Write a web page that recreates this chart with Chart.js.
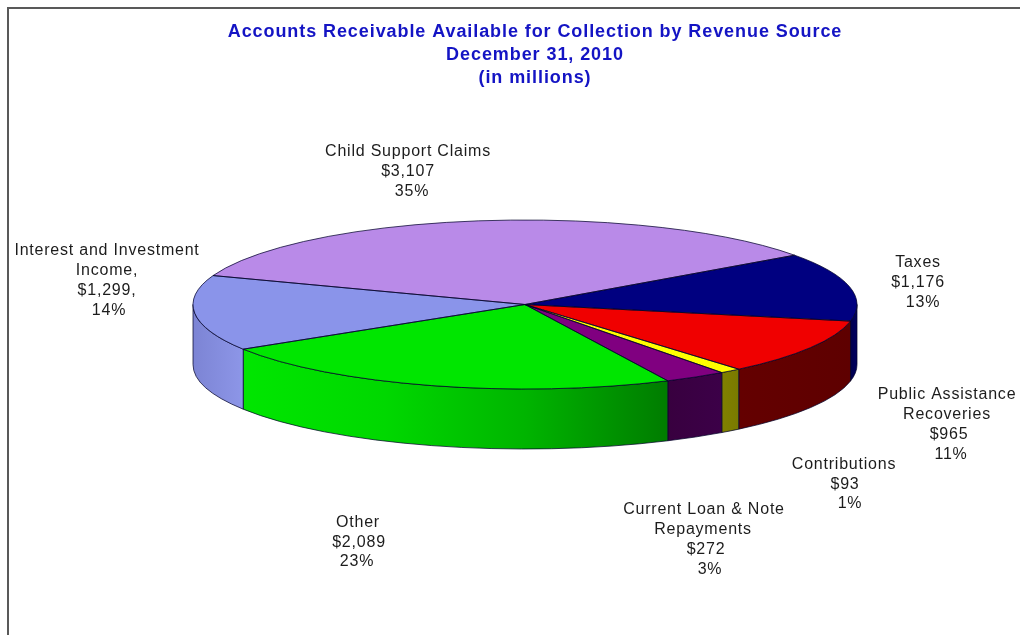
<!DOCTYPE html>
<html>
<head>
<meta charset="utf-8">
<style>
  html, body { margin: 0; padding: 0; background: #fff; }
  canvas { display: block; }
</style>
<script src="https://cdn.jsdelivr.net/npm/chart.js@4/dist/chart.umd.min.js"></script>
</head>
<body>
<canvas id="chart" width="1020" height="635"></canvas>
<script>
// Receivables by revenue source, clockwise from the Taxes slice ($ millions)
const categories = [
  ['Taxes'],
  ['Public Assistance', 'Recoveries'],
  ['Contributions'],
  ['Current Loan & Note', 'Repayments'],
  ['Other'],
  ['Interest and Investment', 'Income,'],
  ['Child Support Claims']
];
const amounts = [1176, 965, 93, 272, 2089, 1299, 3107];
const amountSuffix = ['', '', '', '', '', ',', ''];
const titleLines = [
  'Accounts Receivable Available for Collection by Revenue Source',
  'December 31, 2010',
  '(in millions)'
];

// Slice colours for the top face, and gradient stops for the outer wall
const topColours = ['#000080', '#f00000', '#ffff00', '#800080', '#00e600', '#8a94ea', '#b98ae8'];
const wallStops = [
  ['#00004e', '#000060'],
  ['#640000', '#5e0000'],
  ['#808000', '#7a7a00'],
  ['#38003f', '#3c0048'],
  ['#00e600', '#00d800', '#00b400', '#007c00'],
  ['#7c84d4', '#8d96e8'],
  ['#b98ae8', '#b98ae8']
];

// Centre x and first line y for each label, plus per-line x nudges
const labelCentres = [
  { x: 918, y: 263, nudge: [0, 0, 5] },
  { x: 947, y: 395, nudge: [0, 0, 2, 4] },
  { x: 844, y: 465, gap: 19.5, nudge: [0, 1, 6] },
  { x: 704, y: 510, gap: 19.7, nudge: [0, -1, 2, 6] },
  { x: 358, y: 523, gap: 19.5, nudge: [0, 1, -1] },
  { x: 107, y: 251, nudge: [0, 0, 0, 2] },
  { x: 408, y: 152, nudge: [0, 0, 4] }
];

// Projection of the round pie onto a tilted disc with a visible rim
const disc = { cx: 525, cy: 304.5, rx: 332, ry: 84.5, depth: 60 };
const edgeColour = 'rgba(0, 0, 40, 0.72)';

function outerWalls(ctx, arcs) {
  arcs.forEach((arc, i) => {
    const from = Math.max(arc.startAngle, 0);
    const to = Math.min(arc.endAngle, Math.PI);
    if (to <= from) return;
    const xLeft = disc.cx + disc.rx * Math.cos(to);
    const xRight = disc.cx + disc.rx * Math.cos(from);
    const shade = ctx.createLinearGradient(xLeft, 0, xRight, 0);
    wallStops[i].forEach((c, k, all) => shade.addColorStop(k / (all.length - 1), c));
    ctx.beginPath();
    ctx.ellipse(disc.cx, disc.cy, disc.rx, disc.ry, 0, from, to);
    ctx.ellipse(disc.cx, disc.cy + disc.depth, disc.rx, disc.ry, 0, to, from, true);
    ctx.closePath();
    ctx.fillStyle = shade;
    ctx.fill();
    ctx.strokeStyle = edgeColour;
    ctx.lineWidth = 1;
    ctx.stroke();
  });
}

function sliceOutlines(ctx, arcs) {
  ctx.strokeStyle = edgeColour;
  ctx.lineWidth = 1;
  arcs.forEach(arc => {
    ctx.beginPath();
    ctx.moveTo(disc.cx, disc.cy);
    ctx.ellipse(disc.cx, disc.cy, disc.rx, disc.ry, 0, arc.startAngle, arc.endAngle);
    ctx.closePath();
    ctx.stroke();
  });
}

const total = amounts.reduce((a, b) => a + b, 0);

function sliceLabels(ctx) {
  ctx.save();
  ctx.font = '16px "Liberation Sans", Arial, sans-serif';
  ctx.letterSpacing = '0.78px';
  ctx.fillStyle = '#1c1c1c';
  ctx.textAlign = 'center';
  ctx.textBaseline = 'middle';
  categories.forEach((name, i) => {
    const lines = [
      ...name,
      '$' + amounts[i].toLocaleString('en-US') + amountSuffix[i],
      Math.round(amounts[i] / total * 100) + '%'
    ];
    const c = labelCentres[i];
    lines.forEach((text, k) => {
      ctx.fillText(text, c.x + c.nudge[k], c.y + k * (c.gap || 20));
    });
  });
  ctx.restore();
}

const tiltedPie = {
  id: 'tiltedPie',
  beforeDraw(chart) {
    // The title block is drawn between this hook and the datasets
    chart.ctx.letterSpacing = '0.92px';
  },
  beforeDatasetsDraw(chart) {
    const ctx = chart.ctx;
    ctx.letterSpacing = '0px';
    const arcs = chart.getDatasetMeta(0).data;
    outerWalls(ctx, arcs);
    const a = arcs[0];
    ctx.save();
    ctx.translate(disc.cx, disc.cy);
    ctx.scale(disc.rx / a.outerRadius, disc.ry / a.outerRadius);
    ctx.translate(-a.x, -a.y);
  },
  afterDatasetsDraw(chart) {
    const ctx = chart.ctx;
    ctx.restore();
    sliceOutlines(ctx, chart.getDatasetMeta(0).data);
  },
  afterDraw(chart) {
    const ctx = chart.ctx;
    ctx.save();
    ctx.strokeStyle = '#595959';
    ctx.lineWidth = 2;
    ctx.beginPath();
    ctx.moveTo(8, 635);
    ctx.lineTo(8, 8);
    ctx.lineTo(1020, 8);
    ctx.stroke();
    ctx.restore();
    sliceLabels(ctx);
  }
};

new Chart(document.getElementById('chart'), {
  type: 'pie',
  data: {
    labels: categories.map(c => c.join(' ')),
    datasets: [{
      data: amounts,
      backgroundColor: topColours,
      borderWidth: 0,
      hoverOffset: 0
    }]
  },
  plugins: [tiltedPie],
  options: {
    responsive: false,
    animation: false,
    rotation: 54.3,
    layout: { padding: { left: 50, top: 12 } },
    events: [],
    plugins: {
      legend: { display: false },
      tooltip: { enabled: false },
      title: {
        display: true,
        text: titleLines,
        color: '#1414c4',
        font: { family: '"Liberation Sans", Arial, sans-serif', size: 18, weight: 'bold', lineHeight: 1.3 },
        padding: { top: 8, bottom: 10 }
      }
    }
  }
});
</script>
</body>
</html>
